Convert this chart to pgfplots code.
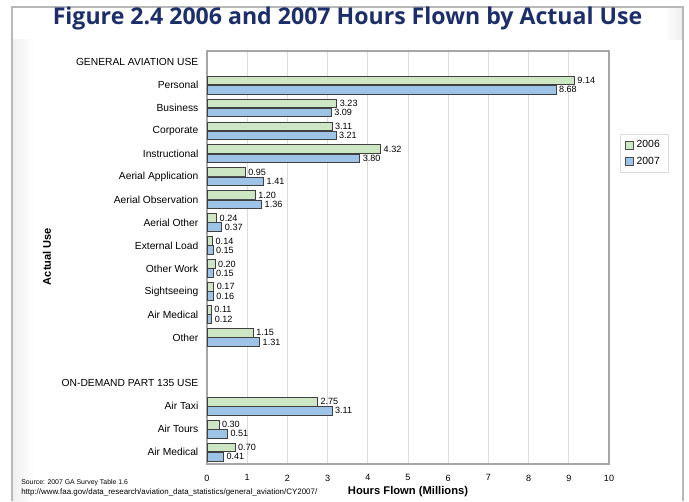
\documentclass[border=0pt]{standalone}
\usepackage{pgfplots}
\pgfplotsset{compat=1.18}
\usepackage{fontspec}
\setmainfont{Liberation Sans}
\newfontfamily\titlefont{Open Sans}
\definecolor{navy}{HTML}{1C2F6B}
\definecolor{bargreen}{HTML}{CDE6C4}
\definecolor{barblue}{HTML}{9DC3E6}
\definecolor{framegray}{HTML}{A6A6A6}
\definecolor{gridgray}{HTML}{DCDCDC}
\begin{document}
\begin{tikzpicture}
% page extent (1px = 0.75pt, origin at top left)
\path (0,0) rectangle (516.75pt,-375.75pt);
% faint page shading and frame
\shade[left color=black!6, right color=white] (9pt,-30pt) rectangle (26pt,-376pt);
\shade[left color=white, right color=black!7] (498pt,-5.25pt) rectangle (512.25pt,-30pt);
\draw[framegray!80, line width=0.8pt] (9pt,-376pt) -- (9pt,-5.25pt) -- (512.25pt,-5.25pt) -- (512.25pt,-376pt);
\node[font=\titlefont\bfseries, text=navy] at (260.6pt,-13.9pt)
  {\resizebox{442pt}{!}{Figure 2.4 2006 and 2007 Hours Flown by Actual Use}};
\begin{axis}[
  at={(155.25pt,-348pt)}, anchor=south west,
  scale only axis, width=301.5pt, height=309.75pt,
  /pgf/number format/assume math mode=true,
  xbar, bar width=0.38,
  xmin=0, xmax=10, ymin=-0.48, ymax=17.52,
  y dir=reverse,
  xtick={0,...,10},
  ytick={0,...,17},
  yticklabels={GENERAL AVIATION USE,Personal,Business,Corporate,Instructional,
    Aerial Application,Aerial Observation,Aerial Other,External Load,Other Work,
    Sightseeing,Air Medical,Other,{},ON-DEMAND PART 135 USE,Air Taxi,Air Tours,Air Medical},
  major tick length=0pt,
  xmajorgrids, grid style={gridgray, line width=0.5pt},
  axis line style={framegray, line width=0.8pt},
  tick label style={font=\fontsize{7.7}{9}\selectfont},
  xticklabel style={font=\fontsize{6.8}{8}\selectfont, yshift=-4.5pt},
  yticklabel style={xshift=-3pt},
  every node near coord/.append style={font=\fontsize{6.8}{7}\selectfont, anchor=west, xshift=1pt, inner sep=1pt},
  nodes near coords={\pgfmathprintnumber[fixed,fixed zerofill,precision=2,assume math mode=true]{\pgfplotspointmeta}},
  legend style={at={(1.027,0.799)}, anchor=north west, draw=gridgray,
    font=\fontsize{7.8}{9}\selectfont, inner xsep=4pt, inner ysep=2.5pt,
    cells={anchor=west}, row sep=1.5pt},
  legend image code/.code={\draw[#1, draw=black!70, line width=0.4pt] (0pt,-3pt) rectangle (6pt,3pt);},
]
\addplot[fill=bargreen, draw=black!75, line width=0.6pt, bar shift=-0.2] coordinates {
  (9.14,1) (3.23,2) (3.11,3) (4.32,4) (0.95,5) (1.20,6) (0.24,7) (0.14,8)
  (0.20,9) (0.17,10) (0.11,11) (1.15,12) (2.75,15) (0.30,16) (0.70,17)};
\addplot[fill=barblue, draw=black!75, line width=0.6pt, bar shift=0.2] coordinates {
  (8.68,1) (3.09,2) (3.21,3) (3.80,4) (1.41,5) (1.36,6) (0.37,7) (0.15,8)
  (0.15,9) (0.16,10) (0.12,11) (1.31,12) (3.11,15) (0.51,16) (0.41,17)};
\legend{2006,2007}
\end{axis}
\node[font=\bfseries\fontsize{8.4}{10}\selectfont] at (306pt,-369pt) {Hours Flown (Millions)};
\node[font=\bfseries\fontsize{8.3}{10}\selectfont, rotate=90] at (35.25pt,-192.4pt) {Actual Use};
\node[anchor=west, inner sep=0pt] at (15.75pt,-362.25pt)
  {\resizebox{80pt}{!}{\fontsize{5.4}{6}\selectfont Source: 2007 GA Survey Table 1.6}};
\node[anchor=west, inner sep=0pt] at (15.75pt,-369pt)
  {\resizebox{222pt}{!}{\fontsize{5.4}{6}\selectfont http://www.faa.gov/data\_research/aviation\_data\_statistics/general\_aviation/CY2007/}};
\end{tikzpicture}
\end{document}
